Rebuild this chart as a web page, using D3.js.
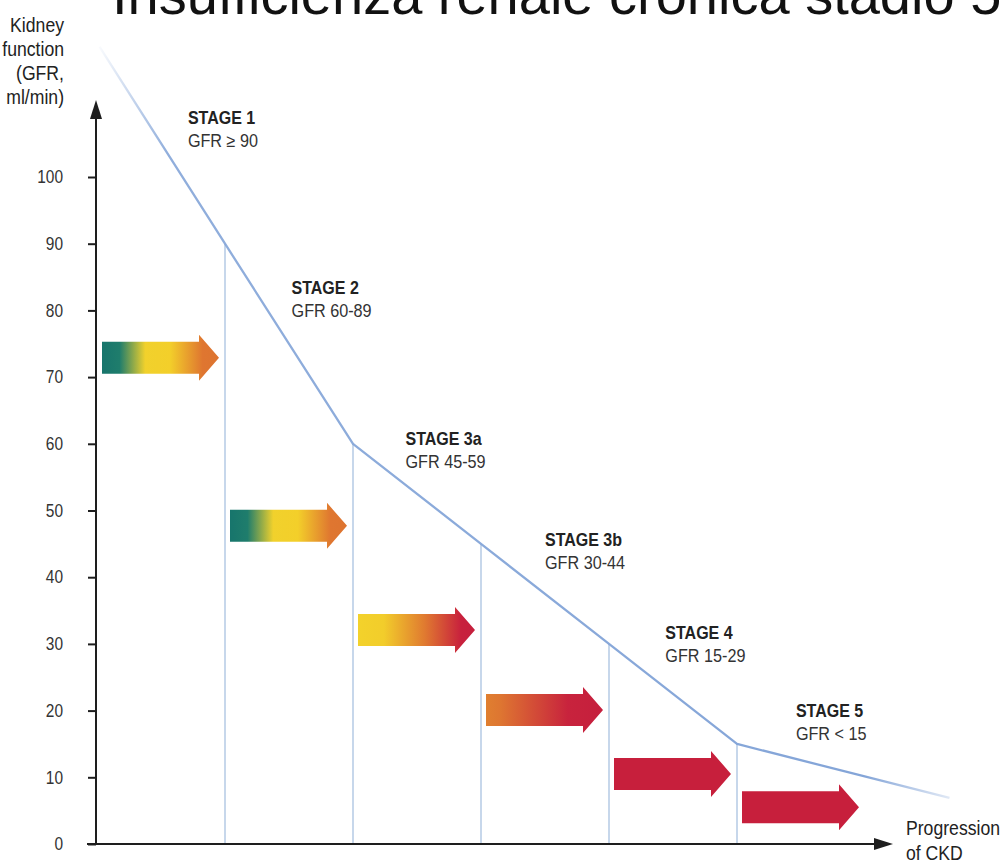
<!DOCTYPE html>
<html>
<head>
<meta charset="utf-8">
<script src="https://cdn.jsdelivr.net/npm/d3@7"></script>
<style>
html,body{margin:0;padding:0;background:#fff;}
svg{display:block;}
</style>
</head>
<body>
<svg id="chart" width="1001" height="863"></svg>
<script>
// ---- data ----
const titleText = "Insufficienza renale cronica stadio 5";
const yTitleLines = ["Kidney", "function", "(GFR,", "ml/min)"];
const xTitleLines = ["Progression", "of CKD"];
const yTicks = [0, 10, 20, 30, 40, 50, 60, 70, 80, 90, 100];
// GFR curve (x = progression in stage units, y = GFR ml/min)
const curveX = [0.02, 1, 2, 3, 4, 5, 6.66];
const curveGFR = [119.5, 90, 60, 45, 30, 15, 6.9];
// stage boundaries
const boundaryX = [1, 2, 3, 4, 5];
const boundaryGFR = [90, 60, 45, 30, 15];
// stage labels
const stageNames = ["STAGE 1", "STAGE 2", "STAGE 3a", "STAGE 3b", "STAGE 4", "STAGE 5"];
const stageRanges = ["GFR \u2265 90", "GFR 60-89", "GFR 45-59", "GFR 30-44", "GFR 15-29", "GFR < 15"];
const labelX = [0.71, 1.52, 2.41, 3.5, 4.44, 5.46];
const labelGFR = [108.8, 83.3, 60.7, 45.6, 31.6, 19.9];
// progression arrows (one per stage): start stage index and centre GFR
const arrowStage = [0, 1, 2, 3, 4, 5];
const arrowGFR = [72.9, 47.7, 32.1, 20.1, 10.5, 5.5];

// ---- scales ----
const x = d3.scaleLinear().domain([0, 5]).range([97, 737]);
const y = d3.scaleLinear().domain([0, 100]).range([844, 177]);

const svg = d3.select("#chart");
const defs = svg.append("defs");
const font = "'Liberation Sans', Arial, Helvetica, sans-serif";

// condensed text helper
function ctext(parent, tx, ty, str, size, sx, opts) {
  opts = opts || {};
  const g = parent.append("g").attr("transform", `translate(${tx},${ty}) scale(${sx},1)`);
  g.append("text")
    .attr("x", 0).attr("y", 0)
    .attr("text-anchor", opts.anchor || "start")
    .attr("font-family", font)
    .attr("font-size", size)
    .attr("font-weight", opts.weight || "normal")
    .attr("fill", opts.fill || "#222")
    .text(str);
  return g;
}

// title (cut at top of picture)
svg.append("text")
  .attr("x", 112).attr("y", 14)
  .attr("font-family", font)
  .attr("font-size", 56)
  .attr("fill", "#111")
  .text(titleText);

// gradients for arrows
const arrowGradients = [
  [[0, "#17756c"], [0.15, "#1f7d6c"], [0.37, "#f1d12c"], [0.58, "#f3cf2a"], [0.86, "#df7630"], [1, "#dd7430"]],
  [[0, "#17756c"], [0.15, "#1f7d6c"], [0.37, "#f1d12c"], [0.58, "#f3cf2a"], [0.86, "#df7630"], [1, "#dd7430"]],
  [[0, "#f3d22b"], [0.22, "#f2cd2b"], [0.57, "#e07a30"], [0.88, "#c8213d"], [1, "#c51f3d"]],
  [[0, "#e07f30"], [0.12, "#de7631"], [0.7, "#c8233d"], [1, "#c51f3d"]],
  [[0, "#c71f3c"], [1, "#c71f3c"]],
  [[0, "#c71f3c"], [1, "#c71f3c"]]
];
arrowGradients.forEach((stops, i) => {
  const g = defs.append("linearGradient").attr("id", "ag" + i)
    .attr("x1", "0%").attr("x2", "100%").attr("y1", "0%").attr("y2", "0%");
  stops.forEach(s => g.append("stop").attr("offset", s[0]).attr("stop-color", s[1]));
});

// line gradient (fading ends)
const lg = defs.append("linearGradient").attr("id", "lineGrad")
  .attr("gradientUnits", "userSpaceOnUse")
  .attr("x1", x(curveX[0])).attr("x2", x(curveX[curveX.length - 1]))
  .attr("y1", 0).attr("y2", 0);
[[0, 0.05], [0.08, 0.9], [0.9, 1], [1, 0.25]].forEach(s =>
  lg.append("stop").attr("offset", s[0]).attr("stop-color", "#84a5d8").attr("stop-opacity", s[1]));

// stage boundary verticals
svg.append("g").selectAll("line").data(boundaryX).join("line")
  .attr("x1", d => x(d)).attr("x2", d => x(d))
  .attr("y1", y(0)).attr("y2", (d, i) => y(boundaryGFR[i]))
  .attr("stroke", "#b9cde6").attr("stroke-width", 1.6);

// arrows
const bodyH = 16, headH = 23, headL = 20;
svg.append("g").selectAll("path").data(arrowStage).join("path")
  .attr("d", (s, i) => {
    const x0 = x(s) + 5, xt = x(s + 1) - 6, xb = xt - headL, yc = y(arrowGFR[i]);
    const p = d3.path();
    p.moveTo(x0, yc - bodyH);
    p.lineTo(xb, yc - bodyH);
    p.lineTo(xb, yc - headH);
    p.lineTo(xt, yc);
    p.lineTo(xb, yc + headH);
    p.lineTo(xb, yc + bodyH);
    p.lineTo(x0, yc + bodyH);
    p.closePath();
    return p.toString();
  })
  .attr("fill", (s, i) => "url(#ag" + i + ")");

// GFR curve
const line = d3.line().x(d => x(d[0])).y(d => y(d[1]));
svg.append("path")
  .datum(curveX.map((v, i) => [v, curveGFR[i]]))
  .attr("d", line)
  .attr("fill", "none")
  .attr("stroke", "url(#lineGrad)")
  .attr("stroke-width", 2.3)
  .attr("stroke-linejoin", "round");

// axes
const axisColor = "#1e1e1e";
const tickScale = 0.86;
const yAxis = d3.axisLeft(y).tickValues(yTicks).tickSize(8).tickPadding(25);
const gy = svg.append("g").attr("transform", `translate(${x(0) - 1},0)`).call(yAxis);
gy.select(".domain").remove();
gy.selectAll(".tick line").attr("stroke", axisColor).attr("stroke-width", 2);
gy.selectAll(".tick text")
  .attr("font-family", font).attr("font-size", 18).attr("fill", "#333")
  .attr("x", -33 / tickScale)
  .attr("transform", `scale(${tickScale},1)`);

// y axis line with arrow
svg.append("line")
  .attr("x1", x(0) - 1).attr("x2", x(0) - 1)
  .attr("y1", y(0) + 1).attr("y2", 112)
  .attr("stroke", axisColor).attr("stroke-width", 2);
svg.append("path")
  .attr("d", `M${x(0) - 1},100 L${x(0) - 7},119 L${x(0) + 5},119 Z`)
  .attr("fill", axisColor);

// x axis line with arrow
svg.append("line")
  .attr("x1", 87).attr("x2", 882)
  .attr("y1", y(0)).attr("y2", y(0))
  .attr("stroke", axisColor).attr("stroke-width", 2);
svg.append("path")
  .attr("d", `M893,${y(0)} L874,${y(0) - 6} L874,${y(0) + 6} Z`)
  .attr("fill", axisColor);

// axis titles
const yt = svg.append("g");
yTitleLines.forEach((d, i) => ctext(yt, 64, 32 + i * 24, d, 21, 0.84, { anchor: "end", fill: "#222" }));
const xt = svg.append("g");
xTitleLines.forEach((d, i) => ctext(xt, 906, 835 + i * 25, d, 21, 0.84, { fill: "#222" }));

// stage labels
const labs = svg.append("g");
stageNames.forEach((d, i) => {
  const lx = x(labelX[i]), ly = y(labelGFR[i]);
  ctext(labs, lx, ly + 6, d, 18, 0.89, { weight: "bold", fill: "#222" });
  ctext(labs, lx, ly + 29, stageRanges[i], 18, 0.9, { fill: "#333" });
});
</script>
</body>
</html>
